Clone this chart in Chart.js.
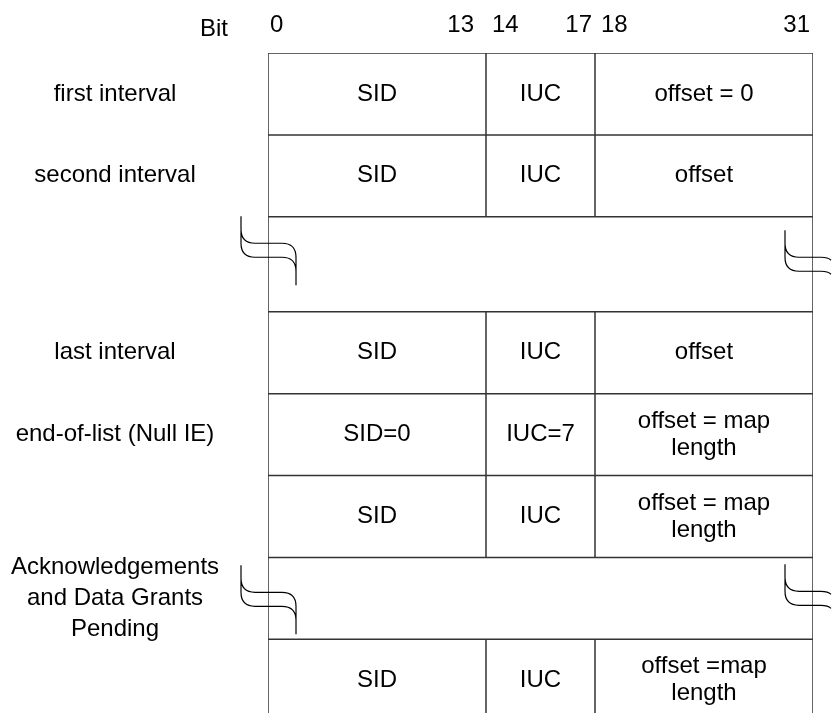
<!DOCTYPE html>
<html>
<head>
<meta charset="utf-8">
<script src="https://cdn.jsdelivr.net/npm/chart.js@4.4.1/dist/chart.umd.min.js"></script>
<style>
  body { margin: 0; background: #fff; }
  #wrap { width: 832px; height: 713px; position: relative; }
</style>
</head>
<body>
<div id="wrap"><canvas id="MapChart"></canvas></div>
<script>
// bit numbers printed above each field (first bit, last bit)
const bitLabels = [['0', '13'], ['14', '17'], ['18', '31']];
// relative widths of the three fields as drawn
const fieldSpan = [2, 1, 2];
const rowNames = ['first interval', 'second interval', '', 'last interval', 'end-of-list (Null IE)', '',
  'Acknowledgements\nand Data Grants\nPending', ''];
// null = broken (elided) row
const rowCells = [
  ['SID', 'IUC', 'offset = 0'],
  ['SID', 'IUC', 'offset'],
  null,
  ['SID', 'IUC', 'offset'],
  ['SID=0', 'IUC=7', 'offset = map\nlength'],
  ['SID', 'IUC', 'offset = map\nlength'],
  null,
  ['SID', 'IUC', 'offset =map\nlength']
];
const rowSpan = [1, 1, 1.16, 1, 1, 1, 1, 1];

const FONT = '24px "Liberation Sans", Arial, sans-serif';
const LINE = '#333';

// field boundaries and row tops in chart units
const fieldEdges = [0];
fieldSpan.forEach(w => fieldEdges.push(fieldEdges[fieldEdges.length - 1] + w));
const rowTops = [0];
rowSpan.forEach(h => rowTops.push(rowTops[rowTops.length - 1] + h));
const xMax = fieldEdges[fieldEdges.length - 1];
const yMax = 8.06;

function seg(x1, y1, x2, y2) {
  return {
    data: [{x: x1, y: y1}, {x: x2, y: y2}],
    showLine: true, borderColor: LINE, borderWidth: 1.5,
    pointRadius: 0, pointHoverRadius: 0, fill: false
  };
}

const datasets = [];
// horizontal lines at the top of each row (last row stays open at the bottom)
rowCells.forEach((cells, i) => datasets.push(seg(0, rowTops[i], xMax, rowTops[i])));
// outer borders
datasets.push(seg(0, 0, 0, yMax));
datasets.push(seg(xMax, 0, xMax, yMax));
// field separators in the normal rows
rowCells.forEach((cells, i) => {
  if (!cells) return;
  for (let k = 1; k < fieldEdges.length - 1; k++) {
    datasets.push(seg(fieldEdges[k], rowTops[i], fieldEdges[k], rowTops[i + 1]));
  }
});

function drawLines(ctx, text, x, y, lh) {
  const parts = text.split('\n');
  const y0 = y - (parts.length - 1) * lh / 2;
  parts.forEach((p, j) => ctx.fillText(p, x, y0 + j * lh));
}

function breakLeft(ctx, L, m) {
  const a = L - 27, b = L + 28, r = 14;
  ctx.beginPath();
  ctx.moveTo(a, m - 34);
  ctx.lineTo(a, m - 7 - r);
  ctx.quadraticCurveTo(a, m - 7, a + r, m - 7);
  ctx.lineTo(b - r, m - 7);
  ctx.quadraticCurveTo(b, m - 7, b, m - 7 + r);
  ctx.lineTo(b, m + 35);
  ctx.moveTo(a, m - 20);
  ctx.lineTo(a, m + 7 - r);
  ctx.quadraticCurveTo(a, m + 7, a + r, m + 7);
  ctx.lineTo(b - r, m + 7);
  ctx.quadraticCurveTo(b, m + 7, b, m + 7 + r);
  ctx.stroke();
}

function breakRight(ctx, R, m, edge) {
  const a = R - 28, r = 14;
  ctx.beginPath();
  ctx.moveTo(a, m - 34);
  ctx.lineTo(a, m - 7 - r);
  ctx.quadraticCurveTo(a, m - 7, a + r, m - 7);
  ctx.lineTo(edge - 10, m - 7);
  ctx.quadraticCurveTo(edge - 3, m - 7, edge, m - 4);
  ctx.moveTo(a, m - 20);
  ctx.lineTo(a, m + 7 - r);
  ctx.quadraticCurveTo(a, m + 7, a + r, m + 7);
  ctx.lineTo(edge - 10, m + 7);
  ctx.quadraticCurveTo(edge - 3, m + 7, edge, m + 10);
  ctx.stroke();
}

const textPlugin = {
  id: 'fieldText',
  afterDatasetsDraw(chart) {
    const ctx = chart.ctx;
    const xs = chart.scales.x, ys = chart.scales.y;
    const area = chart.chartArea;
    ctx.save();
    ctx.font = FONT;
    ctx.fillStyle = '#000';
    ctx.textBaseline = 'middle';

    // bit numbers along the top
    const yBit = area.top - 28;
    bitLabels.forEach((pair, k) => {
      const x0 = xs.getPixelForValue(fieldEdges[k]);
      const x1 = xs.getPixelForValue(fieldEdges[k + 1]);
      ctx.textAlign = 'left';
      ctx.fillText(pair[0], x0 + (k === 0 ? 2 : 6), yBit);
      ctx.textAlign = 'right';
      ctx.fillText(pair[1], x1 - (k === 0 ? 12 : 3), yBit);
    });
    ctx.textAlign = 'right';
    ctx.fillText('Bit', area.left - 40, yBit + 4);

    let nBreak = 0;
    rowCells.forEach((cells, i) => {
      const yc = ys.getPixelForValue((rowTops[i] + rowTops[i + 1]) / 2);
      ctx.textAlign = 'center';
      if (rowNames[i]) drawLines(ctx, rowNames[i], area.left - 153, yc, 31);
      if (cells) {
        cells.forEach((t, k) => {
          const xc = xs.getPixelForValue((fieldEdges[k] + fieldEdges[k + 1]) / 2);
          drawLines(ctx, t, xc, yc, 27);
        });
      } else {
        ctx.strokeStyle = '#000';
        ctx.lineWidth = 1.2;
        breakLeft(ctx, area.left, yc + (nBreak === 0 ? -14 : 1));
        breakRight(ctx, area.right, yc, chart.width - 1);
        nBreak++;
      }
    });
    ctx.restore();
  }
};

new Chart(document.getElementById('MapChart').getContext('2d'), {
  type: 'scatter',
  data: { datasets: datasets },
  options: {
    responsive: true,
    maintainAspectRatio: false,
    animation: false,
    layout: { padding: { left: 268, right: 19, top: 53, bottom: 0 } },
    plugins: { legend: { display: false }, tooltip: { enabled: false } },
    scales: {
      x: { type: 'linear', min: 0, max: xMax, display: false },
      y: { type: 'linear', min: 0, max: yMax, reverse: true, display: false }
    }
  },
  plugins: [textPlugin]
});
</script>
</body>
</html>
